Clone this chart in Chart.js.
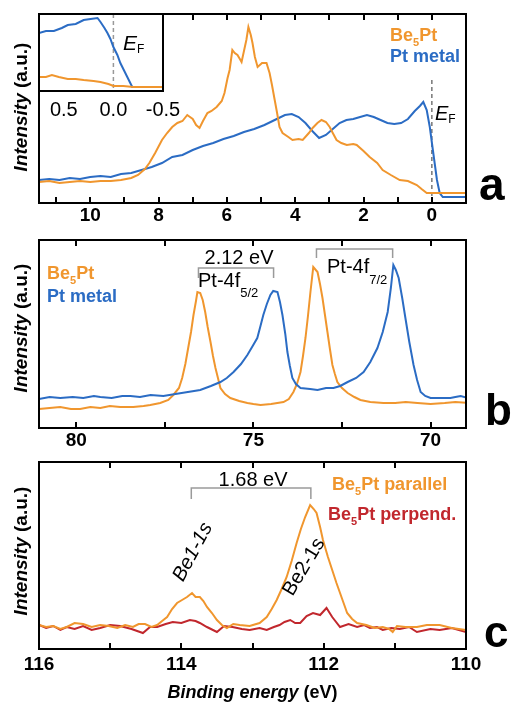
<!DOCTYPE html>
<html>
<head>
<meta charset="utf-8">
<script src="https://cdn.jsdelivr.net/npm/chart.js@4.4.0/dist/chart.umd.min.js"></script>
<style>
  body { margin: 0; background: #fff; }
  #wrap { position: relative; width: 512px; height: 704px; overflow: hidden; background: #fff; }
  canvas { position: absolute; left: 0; }
</style>
</head>
<body>
<div id="wrap">
  <canvas id="chartA" width="512" height="228" style="top:0"></canvas>
  <canvas id="chartInset" width="210" height="125" style="top:0"></canvas>
  <canvas id="chartB" width="512" height="228" style="top:228px"></canvas>
  <canvas id="chartC" width="512" height="248" style="top:456px"></canvas>
</div>
<script>
// Panel a: valence band (binding energy in eV, intensity in a.u.)
const aBe5PtE = [11.5, 11.2, 10.9, 10.6, 10.3, 10.0, 9.7, 9.4, 9.1, 8.8, 8.6, 8.4, 8.27, 8.1, 7.9, 7.75, 7.6, 7.45, 7.3, 7.16, 7.0, 6.9, 6.8, 6.7, 6.57, 6.45, 6.3, 6.15, 6.07, 5.98, 5.92, 5.84, 5.77, 5.69, 5.62, 5.57, 5.5, 5.43, 5.37, 5.3, 5.25, 5.18, 5.1, 4.97, 4.84, 4.75, 4.68, 4.6, 4.53, 4.46, 4.37, 4.2, 4.08, 3.9, 3.78, 3.6, 3.49, 3.35, 3.23, 3.1, 2.99, 2.9, 2.79, 2.65, 2.49, 2.3, 2.2, 2.0, 1.82, 1.6, 1.44, 1.2, 0.94, 0.7, 0.44, 0.3, 0.15, 0.0, -0.5, -1.0];
const aBe5PtI = [21, 22, 20, 21, 22, 21, 22, 22, 23, 25, 28, 34, 40, 50, 63, 70, 76, 80, 82, 88, 84, 78, 75, 82, 90, 92, 96, 102, 110, 125, 133, 153, 150, 148, 144, 141, 152, 163, 176, 168, 160, 146, 136, 140, 140, 130, 118, 103, 90, 76, 70, 66, 63, 64, 63, 70, 75, 80, 83, 81, 76, 70, 63, 60, 58, 59, 58, 52, 46, 40, 33, 28, 23, 22, 18, 14, 10, 10, 10, 10];
const aPtE = [11.5, 11.2, 10.9, 10.6, 10.3, 10.0, 9.7, 9.4, 9.1, 8.8, 8.5, 8.2, 7.9, 7.6, 7.3, 7.0, 6.7, 6.4, 6.1, 5.8, 5.5, 5.2, 4.9, 4.6, 4.3, 4.1, 3.9, 3.7, 3.5, 3.3, 3.1, 2.9, 2.7, 2.5, 2.3, 2.1, 1.9, 1.7, 1.5, 1.3, 1.1, 0.9, 0.7, 0.5, 0.35, 0.25, 0.15, 0.06, -0.03, -0.15, -0.23, -0.32, -0.6, -1.0];
const aPtI = [23, 24, 23, 25, 24, 26, 27, 26, 29, 30, 33, 36, 40, 46, 48, 53, 57, 60, 64, 67, 71, 74, 78, 83, 88, 89, 86, 80, 72, 65, 68, 74, 80, 83, 84, 86, 88, 86, 83, 80, 79, 80, 84, 92, 97, 101, 93, 76, 53, 23, 10, 6, 6, 6];
const aTicks = [10, 8, 6, 4, 2, 0];
const aMinor = [11, 9, 7, 5, 3, 1];

// Inset of panel a: Fermi edge
const insetPtE = [0.75, 0.68, 0.6, 0.52, 0.46, 0.38, 0.3, 0.23, 0.16, 0.13, 0.09, 0.06, 0.03, 0.0, -0.04, -0.07, -0.11, -0.14, -0.17, -0.19, -0.21];
const insetPtI = [58, 60, 60, 63, 66, 67, 71, 72, 73, 69, 63, 58, 52, 44, 36, 28, 20, 14, 8, 4, 4];
const insetBe5PtE = [0.75, 0.68, 0.62, 0.55, 0.46, 0.38, 0.3, 0.2, 0.13, 0.05, 0.0, -0.1, -0.2, -0.5];
const insetBe5PtI = [14, 14, 16, 14, 12, 12, 11, 10, 9, 7, 5, 5, 4, 4];
const insetTicks = [0.5, 0.0, -0.5];

// Panel b: Pt-4f core levels
const bBe5PtE = [81.05, 80.75, 80.45, 80.15, 79.89, 79.6, 79.32, 79.05, 78.76, 78.39, 78.1, 77.91, 77.63, 77.4, 77.26, 77.1, 77.01, 76.92, 76.84, 76.76, 76.69, 76.62, 76.58, 76.5, 76.43, 76.36, 76.29, 76.21, 76.14, 76.07, 75.93, 75.8, 75.65, 75.4, 75.17, 75.0, 74.8, 74.5, 74.15, 74.0, 73.87, 73.77, 73.67, 73.6, 73.53, 73.46, 73.39, 73.31, 73.19, 73.12, 73.05, 72.98, 72.91, 72.84, 72.77, 72.7, 72.63, 72.5, 72.34, 72.15, 71.98, 71.7, 71.33, 71.0, 70.7, 70.37, 70.0, 69.6, 69.3, 68.95];
const bBe5PtI = [19, 20, 21, 19, 19, 21, 20, 22, 21, 21, 22, 23, 25, 28, 33, 40, 50, 64, 80, 96, 113, 127, 136, 135, 128, 116, 101, 86, 72, 60, 40, 34, 30, 27, 25, 24, 23, 24, 26, 29, 36, 44, 56, 72, 90, 112, 136, 161, 156, 144, 130, 113, 96, 79, 63, 54, 46, 40, 35, 31, 28, 26, 25, 25, 26, 25, 24, 25, 26, 25];
const bPtE = [81.05, 80.75, 80.45, 80.1, 79.8, 79.5, 79.32, 79.0, 78.7, 78.47, 78.2, 77.9, 77.54, 77.2, 76.85, 76.5, 76.2, 75.93, 75.75, 75.56, 75.35, 75.17, 75.02, 74.89, 74.8, 74.72, 74.62, 74.52, 74.44, 74.32, 74.25, 74.18, 74.1, 74.04, 73.97, 73.9, 73.8, 73.67, 73.4, 73.19, 72.95, 72.74, 72.55, 72.34, 72.1, 71.89, 71.7, 71.5, 71.35, 71.21, 71.12, 71.05, 70.98, 70.9, 70.8, 70.71, 70.6, 70.48, 70.38, 70.28, 70.15, 70.0, 69.7, 69.44, 69.3, 69.15, 68.95];
const bPtI = [29, 31, 30, 31, 30, 32, 31, 30, 32, 32, 31, 33, 32, 34, 36, 38, 42, 46, 50, 56, 64, 73, 82, 90, 102, 113, 124, 133, 137, 136, 126, 113, 94, 76, 62, 50, 44, 40, 39, 38, 40, 40, 42, 46, 50, 56, 66, 80, 96, 116, 140, 163, 158, 150, 130, 110, 86, 63, 48, 36, 32, 30, 30, 30, 31, 32, 30];
const bTicks = [80, 75, 70];
const bMinor = [77.5, 72.5];
const bSplit1 = [76.55, 74.43];   // 2.12 eV bracket
const bSplit2 = [73.22, 71.07];   // Pt-4f7/2 bracket

// Panel c: Be-1s core levels
const cParE = [116.0, 115.9, 115.8, 115.7, 115.61, 115.5, 115.38, 115.26, 115.14, 115.02, 114.9, 114.79, 114.68, 114.6, 114.51, 114.42, 114.34, 114.27, 114.2, 114.13, 114.06, 113.99, 113.92, 113.85, 113.8, 113.74, 113.69, 113.64, 113.57, 113.5, 113.43, 113.36, 113.27, 113.18, 113.04, 112.9, 112.8, 112.73, 112.66, 112.59, 112.52, 112.45, 112.38, 112.32, 112.26, 112.19, 112.14, 112.1, 112.05, 112.01, 111.94, 111.88, 111.82, 111.77, 111.72, 111.67, 111.6, 111.53, 111.4, 111.28, 111.17, 111.08, 111.03, 110.97, 110.85, 110.69, 110.55, 110.37, 110.2, 110.0];
const cParI = [24, 22, 23, 20, 22, 26, 25, 22, 24, 23, 21, 24, 22, 25, 25, 22, 24, 28, 32, 40, 46, 49, 52, 56, 52, 52, 48, 42, 36, 29, 24, 21, 25, 24, 23, 26, 32, 40, 49, 60, 72, 88, 106, 120, 132, 144, 140, 136, 122, 109, 92, 79, 66, 56, 46, 36, 30, 26, 24, 21, 22, 20, 17, 23, 22, 22, 24, 24, 21, 19];
const cPerpE = [116.0, 115.9, 115.8, 115.7, 115.61, 115.5, 115.38, 115.26, 115.14, 115.0, 114.86, 114.7, 114.54, 114.44, 114.34, 114.22, 114.12, 114.0, 113.88, 113.8, 113.74, 113.64, 113.5, 113.4, 113.28, 113.15, 113.04, 112.9, 112.8, 112.7, 112.62, 112.55, 112.47, 112.4, 112.33, 112.24, 112.15, 112.05, 111.96, 111.88, 111.77, 111.65, 111.53, 111.43, 111.35, 111.25, 111.17, 111.05, 110.93, 110.8, 110.69, 110.5, 110.37, 110.2, 110.0];
const cPerpI = [24, 21, 23, 19, 22, 20, 23, 19, 21, 24, 23, 20, 16, 22, 22, 25, 27, 26, 29, 28, 26, 22, 17, 23, 22, 20, 19, 21, 19, 22, 24, 27, 29, 26, 26, 33, 36, 34, 41, 32, 22, 25, 22, 24, 21, 22, 19, 21, 20, 22, 17, 20, 19, 21, 17];
const cTicks = [116, 114, 112, 110];
const cMinor = [115, 113, 111];
const cSplit = [113.86, 112.18];  // 1.68 eV bracket

const FONT = "'Liberation Sans', Arial, sans-serif";
const ORANGE = '#f0962e';
const BLUE = '#2b6cc4';
const RED = '#c1272d';
const GREY = '#9a9a9a';

function pts(xs, ys) {
    return xs.map((x, i) => ({ x: x, y: ys[i] }));
}

function lineSet(label, xs, ys, color) {
    return {
        label: label,
        data: pts(xs, ys),
        borderColor: color,
        borderWidth: 2,
        pointRadius: 0,
        fill: false,
        tension: 0
    };
}

// draw a row of text runs: [text, font, color, dy]
function drawRuns(ctx, x, y, runs, align, baseline) {
    let w = 0;
    runs.forEach(r => { ctx.font = r[1]; w += ctx.measureText(r[0]).width; });
    let cx = align === 'right' ? x - w : align === 'center' ? x - w / 2 : x;
    ctx.textAlign = 'left';
    ctx.textBaseline = baseline || 'alphabetic';
    runs.forEach(r => {
        ctx.font = r[1];
        ctx.fillStyle = r[2];
        ctx.fillText(r[0], cx, y + (r[3] || 0));
        cx += ctx.measureText(r[0]).width;
    });
}

function yTitle(ctx, cx, cy) {
    ctx.save();
    ctx.translate(cx, cy);
    ctx.rotate(-Math.PI / 2);
    drawRuns(ctx, 0, 0, [
        ['Intensity', 'italic bold 19px ' + FONT, '#000'],
        [' (a.u.)', 'bold 19px ' + FONT, '#000']
    ], 'center', 'middle');
    ctx.restore();
}

function bracket(chart, pair, yTop, yBot) {
    const { ctx, scales: { x } } = chart;
    const x1 = x.getPixelForValue(pair[0]);
    const x2 = x.getPixelForValue(pair[1]);
    ctx.save();
    ctx.strokeStyle = GREY;
    ctx.lineWidth = 1.5;
    ctx.beginPath();
    ctx.moveTo(x1, yBot); ctx.lineTo(x1, yTop); ctx.lineTo(x2, yTop); ctx.lineTo(x2, yBot);
    ctx.stroke();
    ctx.restore();
    return (x1 + x2) / 2;
}

function be5pt(size, color, rest) {
    return [
        ['Be', 'bold ' + size + 'px ' + FONT, color],
        ['5', 'bold ' + Math.round(size * 0.62) + 'px ' + FONT, color, 5],
        ['Pt' + (rest || ''), 'bold ' + size + 'px ' + FONT, color]
    ];
}

// box frame + inward ticks on bottom and top
function framePlugin(major, minor) {
    return {
        id: 'frame',
        afterDatasetsDraw(chart) {
            const { ctx, chartArea: a, scales: { x } } = chart;
            ctx.save();
            ctx.strokeStyle = '#000';
            ctx.lineWidth = 2;
            ctx.strokeRect(a.left, a.top, a.right - a.left, a.bottom - a.top);
            ctx.beginPath();
            major.concat(minor).forEach(v => {
                const px = Math.round(x.getPixelForValue(v));
                ctx.moveTo(px, a.bottom); ctx.lineTo(px, a.bottom - 6);
                ctx.moveTo(px, a.top); ctx.lineTo(px, a.top + 6);
            });
            ctx.stroke();
            ctx.restore();
        }
    };
}

function xScale(min, max, ticks, height, pad, font, fmt) {
    return {
        type: 'linear',
        reverse: true,
        min: min,
        max: max,
        grid: { display: false, drawTicks: false },
        border: { display: false },
        afterBuildTicks: s => { s.ticks = ticks.map(v => ({ value: v })); },
        afterFit: s => { s.height = height; },
        ticks: {
            color: '#000',
            padding: pad,
            maxRotation: 0,
            autoSkip: false,
            font: font,
            callback: fmt || (v => String(v))
        }
    };
}

function makeChart(id, datasets, xOpts, yMax, padding, plugins) {
    return new Chart(document.getElementById(id), {
        type: 'line',
        data: { datasets: datasets },
        options: {
            responsive: false,
            animation: false,
            devicePixelRatio: 1,
            layout: { padding: padding },
            plugins: { legend: { display: false }, tooltip: { enabled: false } },
            scales: {
                x: xOpts,
                y: { display: false, min: 0, max: yMax }
            }
        },
        plugins: plugins
    });
}

const tickFont = { family: FONT, size: 19, weight: 'bold' };

// ---- panel a ----
makeChart('chartA', [
    lineSet('Be5Pt', aBe5PtE, aBe5PtI, ORANGE),
    lineSet('Pt metal', aPtE, aPtI, BLUE)
], xScale(-1, 11.5, aTicks, 25, 1, tickFont), 189,
{ left: 39, right: 46, top: 14, bottom: 0 }, [
    framePlugin(aTicks, aMinor),
    {
        id: 'annotA',
        beforeDatasetsDraw(chart) {
            const { ctx, chartArea: a, scales: { x, y } } = chart;
            const px = x.getPixelForValue(0);
            ctx.save();
            ctx.strokeStyle = '#777';
            ctx.lineWidth = 1.5;
            ctx.setLineDash([4, 3]);
            ctx.beginPath();
            ctx.moveTo(px, y.getPixelForValue(123));
            ctx.lineTo(px, a.bottom);
            ctx.stroke();
            ctx.restore();
        },
        afterDraw(chart) {
            const ctx = chart.ctx;
            drawRuns(ctx, 390, 41, be5pt(18, ORANGE));
            drawRuns(ctx, 390, 62, [['Pt metal', 'bold 18px ' + FONT, BLUE]]);
            drawRuns(ctx, 435, 120, [
                ['E', 'italic 20px ' + FONT, '#000'],
                ['F', '12px ' + FONT, '#000', 3]
            ]);
            yTitle(ctx, 22, 107);
            drawRuns(ctx, 479, 200, [['a', 'bold 46px ' + FONT, '#000']]);
        }
    }
]);

// ---- inset of panel a ----
makeChart('chartInset', [
    lineSet('Be5Pt', insetBe5PtE, insetBe5PtI, ORANGE),
    lineSet('Pt metal', insetPtE, insetPtI, BLUE)
], xScale(-0.5, 0.75, insetTicks, 34, 7, { family: FONT, size: 20 }, v => v.toFixed(1)), 77,
{ left: 39, right: 47, top: 14, bottom: 0 }, [
    {
        id: 'insetBg',
        beforeDatasetsDraw(chart) {
            const { ctx, chartArea: a, scales: { x } } = chart;
            ctx.save();
            ctx.fillStyle = '#fff';
            ctx.fillRect(a.left, a.top, a.right - a.left, a.bottom - a.top);
            const px = x.getPixelForValue(0);
            ctx.strokeStyle = '#999';
            ctx.lineWidth = 1.5;
            ctx.setLineDash([4, 3]);
            ctx.beginPath();
            ctx.moveTo(px, a.top);
            ctx.lineTo(px, a.bottom);
            ctx.stroke();
            ctx.restore();
        },
        afterDraw(chart) {
            drawRuns(chart.ctx, 123, 50, [
                ['E', 'italic 21px ' + FONT, '#000'],
                ['F', '12px ' + FONT, '#000', 3]
            ]);
        }
    },
    framePlugin([], [])
]);

// ---- panel b ----
makeChart('chartB', [
    lineSet('Pt metal', bPtE, bPtI, BLUE),
    lineSet('Be5Pt', bBe5PtE, bBe5PtI, ORANGE)
], xScale(69, 81.05, bTicks, 28, 1, tickFont), 188,
{ left: 39, right: 46, top: 12, bottom: 0 }, [
    framePlugin(bTicks, bMinor),
    {
        id: 'annotB',
        afterDraw(chart) {
            const ctx = chart.ctx;
            const mid1 = bracket(chart, bSplit1, 40, 50);
            bracket(chart, bSplit2, 21, 30);
            drawRuns(ctx, mid1 + 3, 36, [['2.12 eV', '20px ' + FONT, '#000']], 'center');
            drawRuns(ctx, 198, 59, [
                ['Pt-4f', '20px ' + FONT, '#000'],
                ['5/2', '13px ' + FONT, '#000', 10]
            ]);
            drawRuns(ctx, 327, 45, [
                ['Pt-4f', '20px ' + FONT, '#000'],
                ['7/2', '13px ' + FONT, '#000', 11]
            ]);
            drawRuns(ctx, 47, 51, be5pt(18, ORANGE));
            drawRuns(ctx, 47, 74, [['Pt metal', 'bold 18px ' + FONT, BLUE]]);
            yTitle(ctx, 22, 100);
            drawRuns(ctx, 485, 197, [['b', 'bold 44px ' + FONT, '#000']]);
        }
    }
]);

// ---- panel c ----
makeChart('chartC', [
    lineSet('Be5Pt parallel', cParE, cParI, ORANGE),
    lineSet('Be5Pt perpend.', cPerpE, cPerpI, RED)
], xScale(110, 116, cTicks, 55, 4, tickFont), 187,
{ left: 39, right: 46, top: 6, bottom: 0 }, [
    framePlugin(cTicks, cMinor),
    {
        id: 'annotC',
        afterDraw(chart) {
            const ctx = chart.ctx;
            const mid = bracket(chart, cSplit, 32, 43);
            drawRuns(ctx, mid + 2, 30, [['1.68 eV', '20px ' + FONT, '#000']], 'center');
            ctx.save();
            ctx.translate(193, 96);
            ctx.rotate(-62 * Math.PI / 180);
            drawRuns(ctx, 0, 0, [['Be1-1s', 'italic 20px ' + FONT, '#000']], 'center', 'middle');
            ctx.restore();
            ctx.save();
            ctx.translate(304, 111);
            ctx.rotate(-59 * Math.PI / 180);
            drawRuns(ctx, 0, 0, [['Be2-1s', '20px ' + FONT, '#000']], 'center', 'middle');
            ctx.restore();
            drawRuns(ctx, 332, 34, be5pt(18, ORANGE, ' parallel'));
            drawRuns(ctx, 328, 64, be5pt(18, RED, ' perpend.'));
            yTitle(ctx, 22, 95);
            const a = chart.chartArea;
            drawRuns(ctx, (a.left + a.right) / 2, 242, [
                ['Binding energy', 'italic bold 18px ' + FONT, '#000'],
                [' (eV)', 'bold 18px ' + FONT, '#000']
            ], 'center');
            drawRuns(ctx, 484, 191, [['c', 'bold 44px ' + FONT, '#000']]);
        }
    }
]);
</script>
</body>
</html>
